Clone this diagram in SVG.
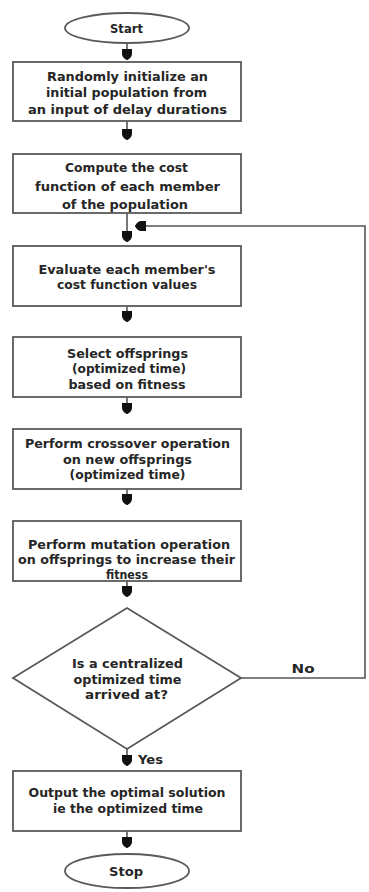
<svg xmlns="http://www.w3.org/2000/svg" width="369" height="892" viewBox="0 0 369 892">
<style>
.box{fill:#fff;stroke:#5a5a5a;stroke-width:1.8}
.t{font-family:"DejaVu Sans",sans-serif;font-weight:bold;font-size:13px;fill:#262626;text-anchor:middle}
.c{fill:none;stroke:#555;stroke-width:1.6}
</style>
<defs>
<marker id="ah" markerUnits="userSpaceOnUse" viewBox="-11 -5 11 10" refX="0" refY="0" markerWidth="11" markerHeight="10" orient="auto">
<path d="M0,0 C-1,-3 -4,-5 -6,-5 L-11,-5 L-11,5 L-6,5 C-4,5 -1,3 0,0 Z" fill="#111"/>
</marker>
</defs>
<rect width="369" height="892" fill="#fff"/>
<g id="connectors">
<path class="c" d="M127,43 V60" marker-end="url(#ah)"/>
<path class="c" d="M127,121 V140" marker-end="url(#ah)"/>
<path class="c" d="M127,213 V242" marker-end="url(#ah)"/>
<path class="c" d="M127,306 V322" marker-end="url(#ah)"/>
<path class="c" d="M127,397 V414" marker-end="url(#ah)"/>
<path class="c" d="M127,489 V505" marker-end="url(#ah)"/>
<path class="c" d="M127,581 V597" marker-end="url(#ah)"/>
<path class="c" d="M127,749 V766" marker-end="url(#ah)"/>
<path class="c" d="M127,831 V848" marker-end="url(#ah)"/>
<path class="c" d="M241,678 H365 V226 H135" marker-end="url(#ah)"/>
<text class="t" x="303" y="673" textLength="23" lengthAdjust="spacingAndGlyphs">No</text>
<text class="t" x="150.5" y="764" textLength="25" lengthAdjust="spacingAndGlyphs">Yes</text>
</g>
<g id="start">
<ellipse class="box" cx="127" cy="28" rx="62" ry="15"/>
<text class="t" x="126.5" y="32.5" textLength="33" lengthAdjust="spacingAndGlyphs">Start</text>
</g>
<g id="init">
<rect class="box" x="13" y="62" width="228" height="59"/>
<text class="t" x="127.5" y="81" textLength="161" lengthAdjust="spacingAndGlyphs">Randomly initialize an</text>
<text class="t" x="126.5" y="97" textLength="161" lengthAdjust="spacingAndGlyphs">initial population from</text>
<text class="t" x="127.5" y="113.5" textLength="199" lengthAdjust="spacingAndGlyphs">an input of delay durations</text>
</g>
<g id="compute">
<rect class="box" x="13" y="154" width="228" height="59"/>
<text class="t" x="126.5" y="172" textLength="123" lengthAdjust="spacingAndGlyphs">Compute the cost</text>
<text class="t" x="127.5" y="190.5" textLength="185" lengthAdjust="spacingAndGlyphs">function of each member</text>
<text class="t" x="125" y="209" textLength="126" lengthAdjust="spacingAndGlyphs">of the population</text>
</g>
<g id="evaluate">
<rect class="box" x="13" y="246" width="228" height="60"/>
<text class="t" x="127" y="273.5" textLength="177" lengthAdjust="spacingAndGlyphs">Evaluate each member's</text>
<text class="t" x="127" y="288.5" textLength="140" lengthAdjust="spacingAndGlyphs">cost function values</text>
</g>
<g id="select">
<rect class="box" x="13" y="337" width="228" height="60"/>
<text class="t" x="127.5" y="358" textLength="121" lengthAdjust="spacingAndGlyphs">Select offsprings</text>
<text class="t" x="129" y="373" textLength="114" lengthAdjust="spacingAndGlyphs">(optimized time)</text>
<text class="t" x="127" y="389" textLength="117" lengthAdjust="spacingAndGlyphs">based on fitness</text>
</g>
<g id="crossover">
<rect class="box" x="13" y="429" width="228" height="60"/>
<text class="t" x="127.5" y="448" textLength="205" lengthAdjust="spacingAndGlyphs">Perform crossover operation</text>
<text class="t" x="127.5" y="463.5" textLength="129" lengthAdjust="spacingAndGlyphs">on new offsprings</text>
<text class="t" x="127.5" y="478.5" textLength="116" lengthAdjust="spacingAndGlyphs">(optimized time)</text>
</g>
<g id="mutation">
<rect class="box" x="13" y="521" width="228" height="60"/>
<text class="t" x="129" y="549" textLength="202" lengthAdjust="spacingAndGlyphs">Perform mutation operation</text>
<text class="t" x="126.5" y="563.5" textLength="217" lengthAdjust="spacingAndGlyphs">on offsprings to increase their</text>
<text class="t" x="127" y="579" textLength="42" lengthAdjust="spacingAndGlyphs">fitness</text>
</g>
<g id="decision">
<polygon class="box" points="127,608 241,678 127,749 13,678"/>
<text class="t" x="127.5" y="668" textLength="111" lengthAdjust="spacingAndGlyphs">Is a centralized</text>
<text class="t" x="127.5" y="684" textLength="108" lengthAdjust="spacingAndGlyphs">optimized time</text>
<text class="t" x="126.5" y="699" textLength="83" lengthAdjust="spacingAndGlyphs">arrived at?</text>
</g>
<g id="output">
<rect class="box" x="13" y="771" width="228" height="60"/>
<text class="t" x="127" y="797" textLength="197" lengthAdjust="spacingAndGlyphs">Output the optimal solution</text>
<text class="t" x="128" y="813" textLength="150" lengthAdjust="spacingAndGlyphs">ie the optimized time</text>
</g>
<g id="stop">
<ellipse class="box" cx="127" cy="871" rx="62" ry="17"/>
<text class="t" x="126" y="875.5" textLength="34" lengthAdjust="spacingAndGlyphs">Stop</text>
</g>
</svg>
